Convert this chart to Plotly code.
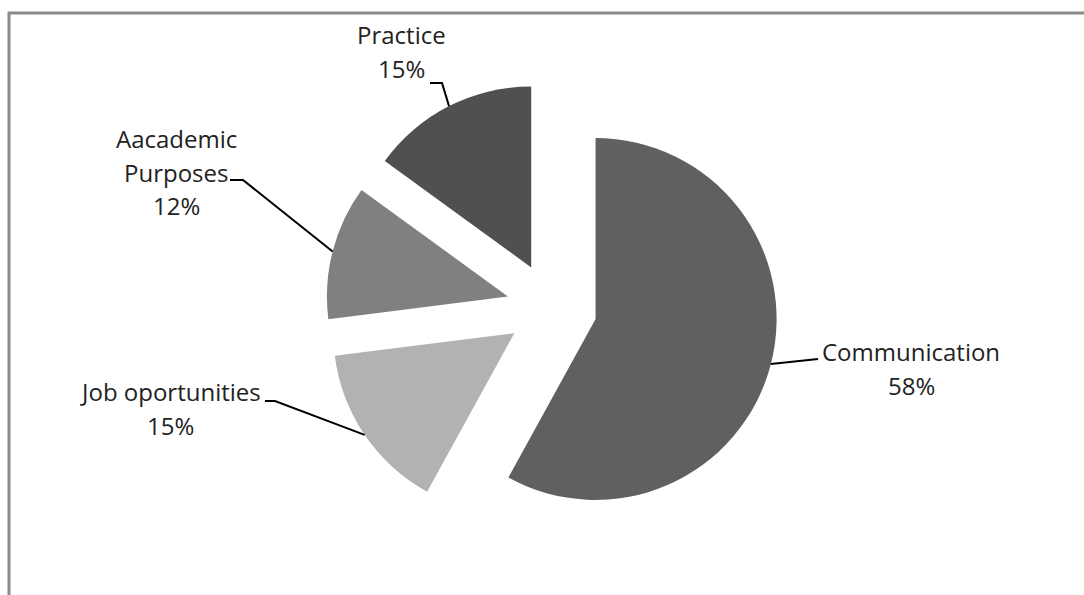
import math
import plotly.graph_objects as go

# ---- data ----
categories = ["Communication", "Job oportunities", "Aacademic<br>Purposes", "Practice"]
values = [58, 15, 12, 15]
colors = ["#606060", "#b2b2b2", "#808080", "#505050"]

W, H = 1084, 595
PULL = 0.25
DOM_X = [0.232, 0.786]
DOM_Y = [0.1026, 0.8631]

FONT = "Open Sans"
FSIZE = 24
TXT = "#222222"
LINE_GAP = 33.5          # px between label baselines
ASCENT = 1.12 * FSIZE    # px from annotation top to first baseline

fig = go.Figure(go.Pie(
    labels=categories,
    values=values,
    sort=False,
    direction="clockwise",
    rotation=0,
    pull=[PULL] * len(values),
    marker=dict(colors=colors, line=dict(width=0)),
    textinfo="none",
    hoverinfo="skip",
    showlegend=False,
    domain=dict(x=DOM_X, y=DOM_Y),
))

# pie geometry (plotly: r = min(w,h)/2/(1+maxPull), centred in domain)
rx = W * (DOM_X[1] - DOM_X[0]) / 2
ry = H * (DOM_Y[1] - DOM_Y[0]) / 2
R = min(rx, ry) / (1 + PULL)
CX = W * (DOM_X[0] + DOM_X[1]) / 2
CY = H * (1 - (DOM_Y[0] + DOM_Y[1]) / 2)

total = sum(values)
arc_pts = []
cum = 0
for v in values:
    mid = (cum + v / 2) / total * 2 * math.pi
    cum += v
    dx, dy = math.sin(mid), -math.cos(mid)
    arc_pts.append((CX + dx * R * (1 + PULL), CY + dy * R * (1 + PULL)))

def px(x):
    return x / W

def py(y):
    return 1 - y / H

# label layout: (centre x, first baseline y) in px, and leader elbows
label_pos = [(911, 360), (170, 400), (176, 147), (401, 43)]
elbows = [[(818, 359)], [(265, 401), (275, 401)], [(230, 180), (243, 180)], [(430, 83), (442, 83)]]

shapes = []
annotations = []
for i, (cat, v) in enumerate(zip(categories, values)):
    pct = round(v / total * 100)
    lines = cat.split("<br>") + [f"{pct}%"]
    lx, ly = label_pos[i]
    for k, line in enumerate(lines):
        base = ly + k * LINE_GAP
        annotations.append(dict(
            x=px(lx), y=py(base - ASCENT), xref="paper", yref="paper",
            text=line, showarrow=False,
            xanchor="center", yanchor="top", align="center",
            font=dict(family=FONT, size=FSIZE, color=TXT),
        ))
    pts = elbows[i] + [arc_pts[i]]
    path = "M " + " L ".join(f"{px(x):.5f},{py(y):.5f}" for x, y in pts)
    shapes.append(dict(type="path", path=path, xref="paper", yref="paper",
                       line=dict(color="#000000", width=2)))

# chart area border
shapes.append(dict(type="rect", xref="paper", yref="paper",
                   x0=px(9), x1=1.2, y0=-0.2, y1=py(13),
                   line=dict(color="#8a8a8a", width=3), fillcolor="rgba(0,0,0,0)", layer="below"))

fig.update_layout(
    width=W, height=H,
    margin=dict(l=0, r=0, t=0, b=0),
    paper_bgcolor="white",
    plot_bgcolor="white",
    shapes=shapes,
    annotations=annotations,
)

fig.write_html("out.html")
